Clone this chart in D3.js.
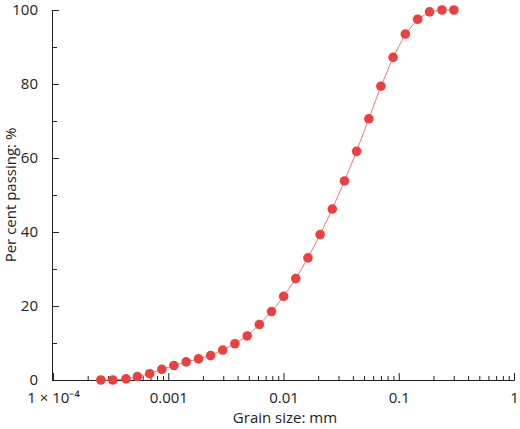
<!DOCTYPE html>
<html><head><meta charset="utf-8">
<script src="https://cdn.jsdelivr.net/npm/d3@7"></script>
<style>body{margin:0;background:#fff}text{font-family:"Open Sans",sans-serif;fill:#222}</style>
</head><body><div id="chart"></div>
<script>
const grainSize = [0.00026,0.00033,0.00043,0.00054,0.00069,0.00088,0.00112,0.00143,0.00183,0.00233,
  0.00297,0.00379,0.00484,0.00617,0.00787,0.01003,0.01278,0.0163,0.0208,0.0265,
  0.0338,0.0431,0.0550,0.0700,0.0893,0.114,0.146,0.185,0.237,0.301];
const passing = [0,0,0.3,0.9,1.7,2.9,3.9,4.9,5.7,6.6,8.1,9.8,11.9,15.0,18.5,22.6,27.4,33.0,39.3,46.2,
  53.8,61.8,70.6,79.4,87.2,93.5,97.5,99.5,100,100];
const xTicks = [1e-4,0.001,0.01,0.1,1];
const xTickLabels = ["1 × 10\u207B\u2074","0.001","0.01","0.1","1"];
const yTicks = [0,20,40,60,80,100];

const W = 520, H = 429;
const margin = { top: 10, right: 6, bottom: 49, left: 52 };
const svg = d3.select("#chart").append("svg").attr("width", W).attr("height", H);
const x = d3.scaleLog().domain([1e-4, 1]).range([margin.left + 1, W - margin.right]);
const y = d3.scaleLinear().domain([0, 100]).range([H - margin.bottom, margin.top]);

// minor ticks
const minorX = [];
for (let e = -4; e < 0; e++) for (let k = 2; k <= 9; k++) minorX.push(k * Math.pow(10, e));
const gx = svg.append("g").attr("transform", `translate(0,${y(0)})`);
gx.call(d3.axisBottom(x).tickValues(minorX).tickSize(-4).tickFormat(""))
  .call(g => g.select(".domain").remove());
gx.append("g").call(d3.axisBottom(x).tickValues(xTicks).tickSize(-7)
  .tickFormat((d, i) => xTickLabels[i]).tickPadding(12))
  .call(g => g.selectAll("text").style("font-size", "15px").attr("fill", "#222"));
gx.selectAll("line").attr("stroke", "#222");
gx.selectAll(".domain").attr("stroke", "#222");

const gy = svg.append("g").attr("transform", `translate(${margin.left},0)`);
gy.call(d3.axisLeft(y).tickValues(d3.range(10, 100, 20)).tickSize(-5).tickFormat(""))
  .call(g => g.select(".domain").remove());
gy.append("g").call(d3.axisLeft(y).tickValues(yTicks).tickSize(-7).tickPadding(14))
  .call(g => g.selectAll("text").style("font-size", "15px").attr("fill", "#222"));
gy.selectAll("line").attr("stroke", "#222");
gy.selectAll(".domain").attr("stroke", "#222");

const data = grainSize.map((d, i) => ({ s: d, p: passing[i] }));
svg.append("path").datum(data).attr("fill", "none").attr("stroke", "#f07a7a").attr("stroke-width", 1)
  .attr("d", d3.line().x(d => x(d.s)).y(d => y(d.p)));
svg.append("g").selectAll("circle").data(data).join("circle")
  .attr("cx", d => x(d.s)).attr("cy", d => y(d.p)).attr("r", 4.8).attr("fill", "#e8413f");

svg.append("text").attr("x", (margin.left + W - margin.right) / 2 + 2).attr("y", H - 6)
  .attr("text-anchor", "middle").style("font-size", "15px").text("Grain size: mm");
svg.append("text").attr("transform", `translate(16,${(margin.top + y(0)) / 2}) rotate(-90)`)
  .attr("text-anchor", "middle").style("font-size", "15px").text("Per cent passing: %");
</script></body></html>
